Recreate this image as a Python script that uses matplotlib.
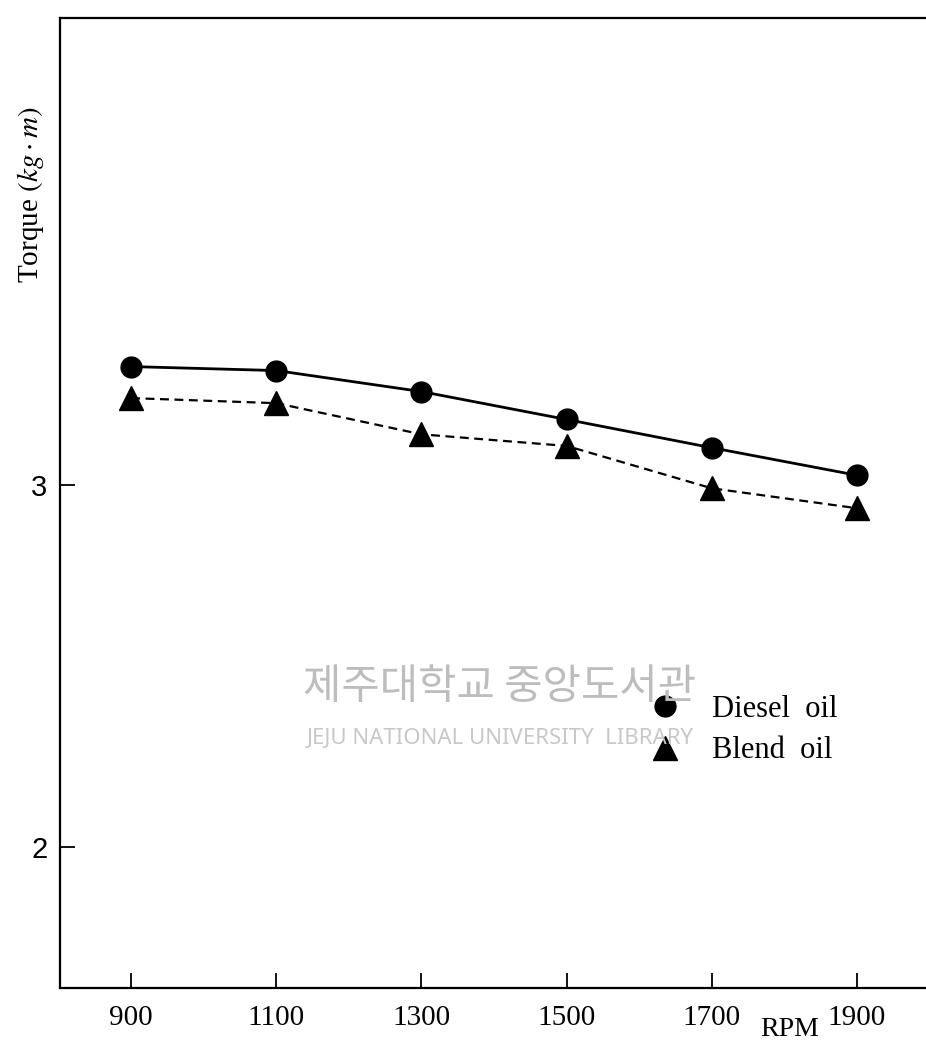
import matplotlib.pyplot as plt
from matplotlib.lines import Line2D

rpm = [900, 1100, 1300, 1500, 1700, 1900]
diesel = [3.327, 3.316, 3.258, 3.181, 3.103, 3.027]
blend = [3.240, 3.226, 3.140, 3.108, 2.991, 2.936]
xticks = [900, 1100, 1300, 1500, 1700, 1900]
yticks = [2, 3]

serif = ['Liberation Serif', 'DejaVu Serif']
plt.rcParams['mathtext.fontset'] = 'stix'

fig = plt.figure(figsize=(9.26, 10.46), dpi=100)
ax = fig.add_axes([60 / 926, 1 - 988 / 1046, 1 - 60 / 926, 970 / 1046])

ax.plot(rpm, diesel, color='black', lw=2, marker='o', ms=15)
ax.plot(rpm, blend, color='black', lw=1.6, ls=(0, (4, 2.5)), marker='^', ms=17)

ax.set_xlim(802, 1995)
ax.set_ylim(1.612, 4.289)
ax.set_xticks(xticks)
ax.set_yticks(yticks)
ax.tick_params(axis='x', direction='in', length=11, width=1.3, pad=12,
               labelsize=21, labelfontfamily='Liberation Serif')
ax.tick_params(axis='y', direction='in', length=11, width=1.3, pad=9,
               labelsize=21, labelfontfamily='Liberation Sans')
ax.spines['right'].set_visible(False)
for s in ['left', 'top', 'bottom']:
    ax.spines[s].set_linewidth(1.6)

fig.text(790 / 926, 1 - 1030 / 1046, 'RPM', family=serif, fontsize=20,
         ha='center', va='center')
fig.text(31 / 926, 1 - 195 / 1046, r'Torque $(\mathbf{\mathit{kg}}\cdot\mathbf{\mathit{m}})$',
         family=serif, fontsize=21, rotation=90, ha='center', va='center')

# library watermark
fig.text(500 / 926, 1 - 688 / 1046, '제주대학교 중앙도서관', family=['Noto Sans CJK KR'],
         fontsize=30, color='#bdbdbd', ha='center', va='center')
fig.text(500 / 926, 1 - 738 / 1046, 'JEJU NATIONAL UNIVERSITY  LIBRARY',
         family=['Noto Sans', 'DejaVu Sans'], fontsize=16, color='#c8c8c8',
         ha='center', va='center')

handles = [Line2D([], [], color='black', marker='o', ms=15, ls='none'),
           Line2D([], [], color='black', marker='^', ms=17, ls='none')]
ax.legend(handles, ['Diesel  oil', 'Blend  oil'], loc='center left',
          bbox_to_anchor=(636 / 926, 1 - 730 / 1046), bbox_transform=fig.transFigure,
          frameon=False, borderpad=0, handlelength=0.9, handletextpad=1.1,
          labelspacing=0.42, prop={'family': serif, 'size': 22})

fig.savefig('out.png', dpi=100)
